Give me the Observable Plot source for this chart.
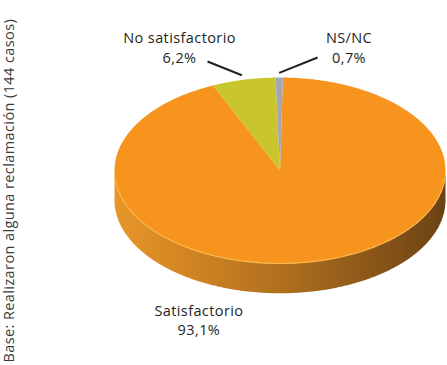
<!DOCTYPE html>
<html><head><meta charset="utf-8">
<script src="https://cdn.jsdelivr.net/npm/d3@7"></script>
<script src="https://cdn.jsdelivr.net/npm/@observablehq/plot@0.6"></script>
<style>body{margin:0;background:#fff;} svg{display:block} svg text{letter-spacing:0.4px}</style>
</head><body><div id="chart"></div>
<script>
// ---- data ----
const categories = ["Satisfactorio", "No satisfactorio", "NS/NC"];
const values = [93.1, 6.2, 0.7];
const valueLabels = ["93,1%", "6,2%", "0,7%"];
const caption = "Base: Realizaron alguna reclamación (144 casos)";

// ---- style / layout ----
const colors = ["#F7941D", "#C8C62C", "#A5A6B4"];
const startDeg = 1.0;       // clockwise from top
const depth = 0.32;         // wall thickness in y units
const labelPos = [{x: -0.49, y: -1.60}, {x: -0.607, y: 1.33}, {x: 0.417, y: 1.33}];
const leaderOuter = [null, {x: -0.438, y: 1.172}, {x: 0.227, y: 1.215}];
const font = "'Open Sans', sans-serif";

const total = d3.sum(values);
const rad = d => d * Math.PI / 180;
let acc = startDeg;
const slices = categories.map((c, i) => {
  const span = values[i] / total * 360;
  const s = {i, category: c, value: values[i], label: valueLabels[i], color: colors[i], a0: acc, a1: acc + span, mid: acc + span / 2};
  acc += span;
  return s;
});

function arcPts(from, to, off = 0) {
  const n = Math.max(2, Math.ceil(Math.abs(to - from) / 0.5));
  return d3.range(n + 1).map(k => {
    const a = rad(from + (to - from) * k / n);
    return {x: Math.sin(a), y: Math.cos(a) - off};
  });
}

const wall = [...arcPts(90, 270), ...arcPts(270, 90, depth)];
const leaders = slices.filter(s => leaderOuter[s.i]).map(s => ({
  x1: leaderOuter[s.i].x, y1: leaderOuter[s.i].y,
  x2: 1.05 * Math.sin(rad(s.mid)), y2: 1.05 * Math.cos(rad(s.mid))
}));

const marks = [
  Plot.line(wall, {x: "x", y: "y", fill: "url(#wallGrad)", stroke: "none", curve: "linear-closed"}),
  ...slices.map(s => Plot.line([{x: 0, y: 0}, ...arcPts(s.a0, s.a1)], {x: "x", y: "y", fill: s.color, stroke: "none", curve: "linear-closed"})),
  Plot.line(arcPts(95, 265), {x: "x", y: "y", stroke: "#FDB54C", strokeWidth: 1.2}),
  Plot.link(leaders, {x1: "x1", y1: "y1", x2: "x2", y2: "y2", stroke: "#231f20", strokeWidth: 2}),
  Plot.text(slices, {x: d => labelPos[d.i].x, y: d => labelPos[d.i].y, text: d => d.category + "\n" + d.label,
    lineHeight: 1.345, fontSize: 14.5, fill: "#231f20", fontFamily: font}),
  Plot.text([caption], {frameAnchor: "bottom-left", rotate: -90, textAnchor: "start", dx: 13, dy: -3,
    fontSize: 14.5, fill: "#3a3a3a", fontFamily: font})
];

const svg = Plot.plot({
  width: 447, height: 365, margin: 0,
  x: {domain: [-1, 1], range: [114, 445], axis: null},
  y: {domain: [-1, 1], range: [263, 77], axis: null},
  style: {background: "#fff", overflow: "visible"},
  marks
});
d3.select(svg).insert("defs", ":first-child").html(`
  <linearGradient id="wallGrad" x1="0" y1="0" x2="1" y2="0">
    <stop offset="0" stop-color="#E8962A"/>
    <stop offset="0.22" stop-color="#D28522"/>
    <stop offset="0.5" stop-color="#B0701E"/>
    <stop offset="0.78" stop-color="#8A5618"/>
    <stop offset="1" stop-color="#6A4314"/>
  </linearGradient>`);
document.getElementById("chart").append(svg);
</script>
</body></html>
